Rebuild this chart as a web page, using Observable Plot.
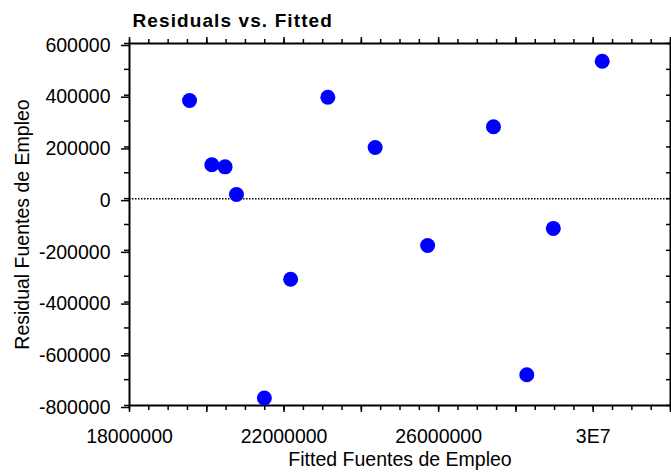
<!DOCTYPE html>
<html><head><meta charset="utf-8">
<script src="https://cdn.jsdelivr.net/npm/d3@7"></script>
<script src="https://cdn.jsdelivr.net/npm/@observablehq/plot@0.6"></script>
<style>body{margin:0;background:#fff} svg{display:block}</style>
</head><body><div id="chart"></div>
<script>
const fitted = [19554000, 20130000, 20474000, 20768000, 21490000, 22170000, 23133000, 24357000, 25715000, 27419000, 28281000, 28968000, 30233000];
const residuals = [379600, 131000, 123000, 16000, -771000, -311500, 392300, 198000, -181000, 278000, -681000, -115000, 531500];
const xTickValues = [18000000, 22000000, 26000000, 30000000];
const xTickLabels = ["18000000", "22000000", "26000000", "3E7"];
const yTickValues = [600000, 400000, 200000, 0, -200000, -400000, -600000, -800000];
const yTickLabels = ["600000", "400000", "200000", "0", "-200000", "-400000", "-600000", "-800000"];
const title = "Residuals vs. Fitted";
const xLabel = "Fitted Fuentes de Empleo";
const yLabel = "Residual Fuentes de Empleo";

const data = fitted.map((x, i) => ({x, y: residuals[i]}));
const xMajor = d3.range(18e6, 32e6 + 1, 2e6);
const xMinor = d3.range(18e6, 32e6 + 1, 5e5);
const yMinor = d3.range(-800000, 600001, 100000);
const blank = () => "";
const fs = 19.5;

const chart = Plot.plot({
  width: 671, height: 473,
  marginTop: 43, marginRight: 1, marginBottom: 68, marginLeft: 129,
  style: {fontFamily: "'Liberation Sans', Arial, sans-serif", fontSize: fs + "px", color: "#000", background: "#fff", overflow: "visible"},
  x: {domain: [18e6, 32e6]},
  y: {domain: [-800000, 600000]},
  marks: [
    Plot.ruleY([0], {stroke: "#000", strokeWidth: 1.5, strokeDasharray: "1.5,1.5"}),
    Plot.axisX(xMinor, {anchor: "bottom", tickSize: 5, strokeWidth: 1.5, tickFormat: blank, label: null}),
    Plot.axisX(xMajor, {anchor: "bottom", tickSize: 7, strokeWidth: 1.5, tickFormat: blank, label: null}),
    Plot.axisX(xTickValues, {anchor: "bottom", tickSize: 0, tickPadding: 24, fontSize: fs, tickFormat: d => xTickLabels[xTickValues.indexOf(d)], label: null}),
    Plot.axisX(xMinor, {anchor: "top", tickSize: 5, strokeWidth: 1.5, tickFormat: blank, label: null}),
    Plot.axisX(xMajor, {anchor: "top", tickSize: 7, strokeWidth: 1.5, tickFormat: blank, label: null}),
    Plot.axisY(yMinor, {anchor: "left", tickSize: 5, strokeWidth: 1.5, tickFormat: blank, label: null}),
    Plot.axisY(yTickValues, {anchor: "left", tickSize: 8, tickPadding: 11, strokeWidth: 1.5, fontSize: fs, dy: 2, tickFormat: d => yTickLabels[yTickValues.indexOf(d)], label: null}),
    Plot.axisY(yMinor, {anchor: "right", tickSize: 5, dx: -5, strokeWidth: 1.5, tickFormat: blank, label: null}),
    Plot.frame({stroke: "#000", strokeWidth: 2}),
    Plot.dot(data, {x: "x", y: "y", r: 7.5, fill: "#0000ff", stroke: "none"}),
    Plot.text([title], {frameAnchor: "top-left", textAnchor: "start", lineAnchor: "middle", dx: 3, dy: -23, fontWeight: "bold", fontSize: 19}),
    Plot.text([xLabel], {frameAnchor: "bottom", textAnchor: "middle", lineAnchor: "middle", dy: 54, fontSize: fs}),
    Plot.text([yLabel], {frameAnchor: "left", textAnchor: "middle", rotate: -90, lineAnchor: "middle", dx: -107, fontSize: fs})
  ]
});
d3.select(chart).selectAll("text").filter(function() { return this.textContent === title; }).style("letter-spacing", "1.1px");
document.getElementById("chart").appendChild(chart);
</script>
</body></html>
